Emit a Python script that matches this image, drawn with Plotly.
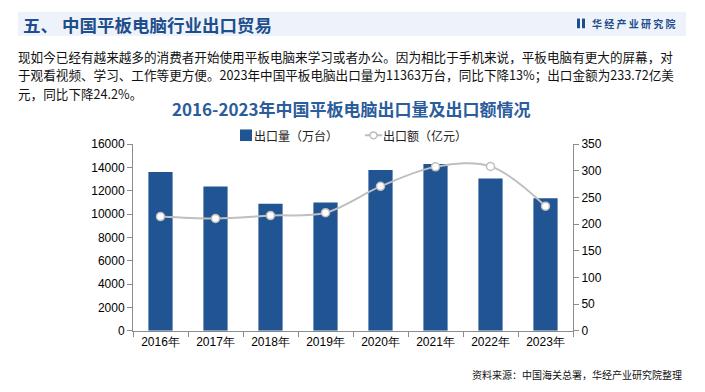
import plotly.graph_objects as go

years = ["2016年", "2017年", "2018年", "2019年", "2020年", "2021年", "2022年", "2023年"]
volume = [13620, 12380, 10890, 10990, 13790, 14300, 13060, 11363]   # 出口量（万台）
value = [214.3, 210.6, 216.1, 221.5, 270.9, 307.5, 308.4, 233.72]     # 出口额（亿元）
left_ticks = [0, 2000, 4000, 6000, 8000, 10000, 12000, 14000, 16000]
right_ticks = [0, 50, 100, 150, 200, 250, 300, 350]

W, H = 705, 392
CJK = "Noto Sans CJK SC, Noto Sans, sans-serif"
NUM = "Liberation Sans, Arial, sans-serif"
BLUE = "#215493"
DARK = "#1F4E8C"
GREY = "#BFBFBF"

fig = go.Figure()
fig.add_trace(go.Bar(
    x=years, y=volume, name="出口量（万台）", marker=dict(color=BLUE, line=dict(width=0)),
    width=0.44, yaxis="y", showlegend=False))
fig.add_trace(go.Scatter(
    x=years, y=value, name="出口额（亿元）", mode="lines+markers", yaxis="y2", showlegend=False,
    line=dict(color=GREY, width=2, shape="spline", smoothing=1.0),
    marker=dict(color="white", size=8, line=dict(color=GREY, width=1.5))))

x0, x1 = 133 / W, 573 / W
y0, y1 = (H - 335.7) / H, (H - 142.3) / H
axcol = "#8C8C8C"
tf = dict(family=NUM, size=12, color="#000")

fig.update_layout(
    width=W, height=H, margin=dict(l=0, r=0, t=0, b=0),
    paper_bgcolor="white", plot_bgcolor="rgba(0,0,0,0)",
    xaxis=dict(domain=[x0, x1], showline=True, linecolor=axcol, linewidth=1,
               ticks="outside", tickson="boundaries", ticklen=5, tickcolor=axcol,
               tickfont=tf, showgrid=False, fixedrange=True),
    yaxis=dict(domain=[y0, y1], range=[0, 16000], tickvals=left_ticks,
               ticktext=[str(v) for v in left_ticks], showline=True,
               linecolor=axcol, linewidth=1, ticks="outside", ticklen=5, tickcolor=axcol,
               tickfont=tf, showgrid=False, zeroline=False),
    yaxis2=dict(domain=[y0, y1], range=[0, 350], tickvals=right_ticks,
                ticktext=[str(v) for v in right_ticks], overlaying="y", side="right",
                anchor="x", showline=True, linecolor=axcol, linewidth=1, ticks="outside", ticklen=5,
                tickcolor=axcol, tickfont=tf, showgrid=False, zeroline=False),
)

def px(x):
    return x / W

def py(y):
    return (H - y) / H

# header band
fig.add_shape(type="rect", xref="paper", yref="paper", x0=px(18), x1=px(686),
              y0=py(30), y1=py(5), fillcolor="#EEF3FB", line=dict(width=0), layer="below")
# logo icon
for a, b in [(577, 580), (582, 585)]:
    fig.add_shape(type="rect", xref="paper", yref="paper", x0=px(a), x1=px(b),
                  y0=py(22), y1=py(12), fillcolor=DARK, line=dict(width=0))

# legend (drawn)
fig.add_shape(type="rect", xref="paper", yref="paper", x0=px(240), x1=px(252),
              y0=py(139), y1=py(127), fillcolor=BLUE, line=dict(width=0))
fig.add_shape(type="line", xref="paper", yref="paper", x0=px(365), x1=px(382),
              y0=py(133), y1=py(133), line=dict(color=GREY, width=2))
fig.add_shape(type="circle", xref="paper", yref="paper", x0=px(370), x1=px(377),
              y0=py(136.5), y1=py(129.5), fillcolor="white", line=dict(color=GREY, width=1.5))

def ann(text, x, y, size, color, xanchor="left", bold=False, family=CJK):
    fig.add_annotation(text=f"<b>{text}</b>" if bold else text, xref="paper", yref="paper",
                       x=px(x), y=py(y), xanchor=xanchor, yanchor="middle",
                       showarrow=False, font=dict(family=family, size=size, color=color),
                       borderpad=0)

ann("出口量（万台）", 253, 133, 12, "#222")
ann("出口额（亿元）", 382, 133, 12, "#222")

ann("五、 中国平板电脑行业出口贸易", 22, 18, 17.5, DARK, bold=True)
ann("华 经 产 业 研 究 院", 591, 17, 10, DARK, bold=True)

ann("现如今已经有越来越多的消费者开始使用平板电脑来学习或者办公。因为相比于手机来说，平板电脑有更大的屏幕，对",
    17, 51.5, 12.6, "#111")
ann("于观看视频、学习、工作等更方便。2023年中国平板电脑出口量为11363万台，同比下降13%；出口金额为233.72亿美",
    17, 70.5, 12.6, "#111")
ann("元，同比下降24.2%。", 17, 89.5, 12.6, "#111")

ann("2016-2023年中国平板电脑出口量及出口额情况", 351, 105, 17, "#2B5C9C", xanchor="center", bold=True)

ann("资料来源：中国海关总署，华经产业研究院整理", 683, 381, 10, "#111", xanchor="right")

fig.write_html("out.html", config={"displayModeBar": False},
               post_script="document.body.style.margin='0';document.body.style.padding='0';")
